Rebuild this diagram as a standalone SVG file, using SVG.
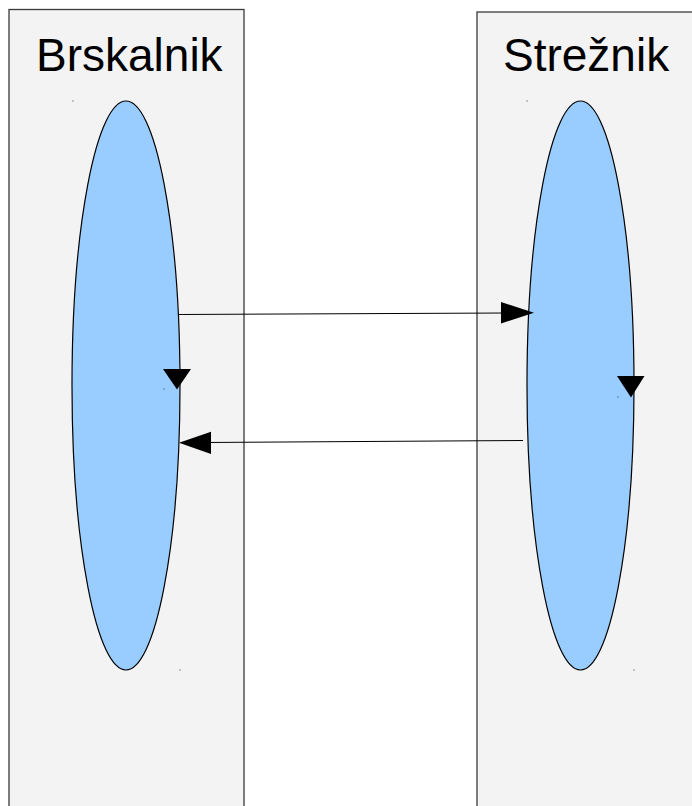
<svg xmlns="http://www.w3.org/2000/svg" width="692" height="806" viewBox="0 0 692 806">
<style>
.panel{fill:#f3f3f3;stroke:#3a3a3a;stroke-width:1.3}
.proc{fill:#99ccff;stroke:#000;stroke-width:1.2}
.lbl{font-family:"Liberation Sans",Arial,sans-serif;font-size:46px;fill:#000}
.conn{stroke:#000;stroke-width:1;fill:none}
.head{fill:#000}
.dot{fill:#333}
</style>
<rect width="692" height="806" fill="#ffffff"/>
<g id="brskalnik">
<rect class="panel" x="9" y="9.5" width="235" height="810"/>
<text class="lbl" x="36" y="70.5">Brskalnik</text>
</g>
<g id="streznik">
<rect class="panel" x="477" y="12" width="230" height="810"/>
<text class="lbl" x="503" y="70.5">Strežnik</text>
</g>
<g id="brskalnik-proces">
<ellipse class="proc" cx="126" cy="385.5" rx="54" ry="284.5"/>
<rect class="dot" x="72.5" y="100.5" width="1" height="1"/>
<rect class="dot" x="179.5" y="669.5" width="1" height="1"/>
<rect class="dot" x="163.5" y="388.5" width="1" height="1"/>
<polygon class="head" points="163,369 191,369 177,389.5"/>
</g>
<g id="streznik-proces">
<ellipse class="proc" cx="580.5" cy="385.5" rx="53.5" ry="284.5"/>
<rect class="dot" x="526.5" y="100.5" width="1" height="1"/>
<rect class="dot" x="633.5" y="669.5" width="1" height="1"/>
<rect class="dot" x="617.5" y="396.5" width="1" height="1"/>
<polygon class="head" points="617,376 644.5,376 631,397.5"/>
</g>
<g id="connectors">
<line class="conn" x1="178" y1="314.5" x2="505" y2="313"/>
<polygon class="head" points="501,302 534,312.8 501,323.5"/>
<line class="conn" x1="523" y1="440.5" x2="205" y2="442.5"/>
<polygon class="head" points="179,442.8 211,431.8 211,454"/>
</g>
</svg>
